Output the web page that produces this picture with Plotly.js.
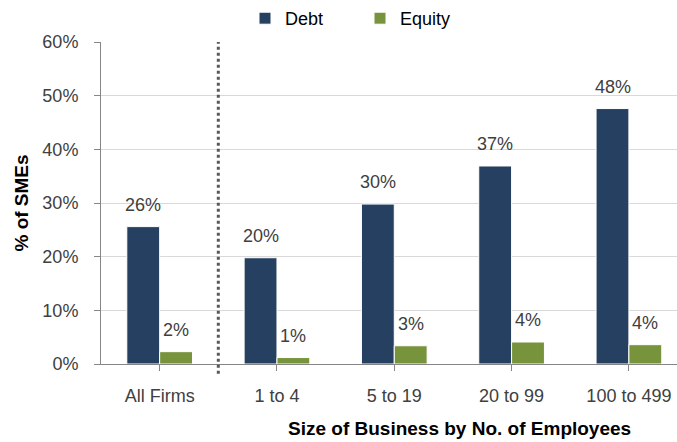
<!DOCTYPE html>
<html>
<head>
<meta charset="utf-8">
<script src="https://cdn.plot.ly/plotly-3.0.1.min.js"></script>
<style>html,body{margin:0;padding:0;background:#fff;overflow:hidden}#chart{width:677px;height:442px}</style>
</head>
<body>
<div id="chart"></div>
<script>
var categories = ["All Firms", "1 to 4", "5 to 19", "20 to 99", "100 to 499"];
var debtValues = [25.6, 19.8, 29.8, 36.9, 47.6];
var equityValues = [2.3, 1.2, 3.4, 4.1, 3.6];
var yTickValues = [0, 10, 20, 30, 40, 50, 60];
var yTickLabels = ["0%", "10%", "20%", "30%", "40%", "50%", "60%"];

var FONT = "Liberation Sans, Arial, sans-serif";
var TXT = "#404040";
var FS = 18;
var idx = categories.map(function (c, i) { return i; });

var debt = {
  type: "bar", name: "Debt", x: idx, y: debtValues,
  marker: { color: "#254061", line: { color: "#ffffff", width: 1 } },
  hoverinfo: "skip"
};
var equity = {
  type: "bar", name: "Equity", x: idx, y: equityValues,
  marker: { color: "#77933C", line: { color: "#ffffff", width: 1 } },
  hoverinfo: "skip"
};

var annotations = [];
function addLabels(vals, shift) {
  vals.forEach(function (v, i) {
    annotations.push({
      x: i, y: v, xref: "x", yref: "y",
      text: Math.round(v) + "%", showarrow: false,
      xshift: shift, yshift: 22, yanchor: "middle",
      font: { family: FONT, size: FS, color: TXT }
    });
  });
}
addLabels(debtValues, -16.4);
addLabels(equityValues, 16.4);
annotations.push({
  xref: "paper", yref: "paper", x: (459 - 101) / 576, y: -0.2, yanchor: "middle",
  text: "<b>Size of Business by No. of Employees</b>", showarrow: false,
  font: { family: FONT, size: 19, color: "#000000" }
});

var layout = {
  width: 677, height: 442,
  margin: { l: 101, r: 0, t: 42, b: 78 },
  paper_bgcolor: "#ffffff", plot_bgcolor: "#ffffff",
  barmode: "group", bargap: 0.44, bargroupgap: 0,
  font: { family: FONT, size: FS, color: TXT },
  showlegend: true,
  legend: {
    orientation: "h", x: 245 / 677, xref: "container", y: 1, yref: "container",
    xanchor: "left", yanchor: "top",
    entrywidth: 70, entrywidthmode: "pixels",
    font: { family: FONT, size: FS, color: "#000000" },
    itemclick: false, traceorder: "normal"
  },
  xaxis: {
    range: [-0.5, 4.41],
    tickmode: "array", tickvals: idx, ticktext: categories,
    tickson: "boundaries", ticks: "outside", ticklen: 6, tickcolor: "#868686",
    showline: true, linecolor: "#868686", linewidth: 1,
    showgrid: false, zeroline: false, ticklabelstandoff: 9,
    tickfont: { family: FONT, size: FS, color: TXT }
  },
  yaxis: {
    range: [0, 60],
    tickmode: "array", tickvals: yTickValues, ticktext: yTickLabels,
    ticks: "outside", ticklen: 6, tickcolor: "#868686",
    showline: true, linecolor: "#868686", linewidth: 1,
    showgrid: true, gridcolor: "#d9d9d9", gridwidth: 1, zeroline: false,
    ticklabelstandoff: 12,
    tickfont: { family: FONT, size: FS, color: TXT },
    title: { text: "<b>% of SMEs</b>", font: { family: FONT, size: 19, color: "#000000" }, standoff: 8 }
  },
  shapes: [{
    type: "line", xref: "x", yref: "paper", x0: 0.5, x1: 0.5, y0: -0.03, y1: 1,
    line: { color: "#595959", width: 3, dash: "dot" }
  }],
  annotations: annotations
};

Plotly.newPlot("chart", [debt, equity], layout, { displayModeBar: false, staticPlot: true });
</script>
</body>
</html>
